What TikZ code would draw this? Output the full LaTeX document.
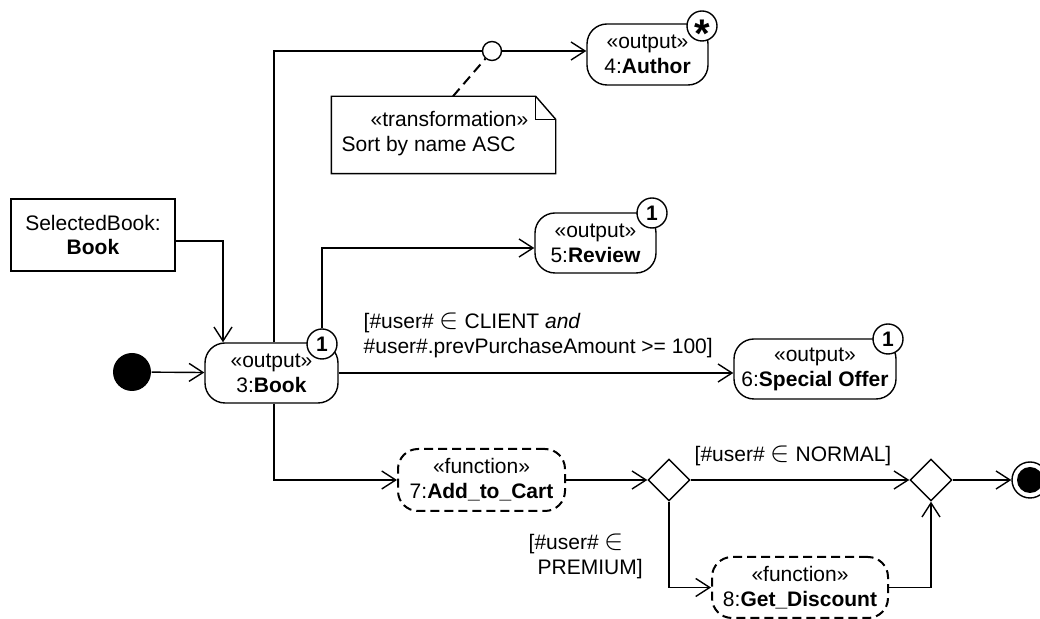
\documentclass[tikz,border=0pt]{standalone}
\usepackage{fontspec}
\setmainfont{Liberation Sans}
\usetikzlibrary{arrows.meta,shapes.geometric,calc}
\newcommand{\elemof}{\mbox{\fontsize{15}{15}\selectfont$\in$}}
\begin{document}
\begin{tikzpicture}[x=0.5pt,y=-0.5pt, line width=0.7pt,
  font=\fontsize{10.5}{12.5}\selectfont,
  arr/.style={-{Straight Barb[length=7pt,width=9pt]}},
  outnode/.style={draw, rounded corners=10pt, align=center, inner sep=0pt},
  funnode/.style={draw, rounded corners=10pt, dash pattern=on 4.5pt off 2.5pt, line width=1pt, align=center, inner sep=0pt},
  mult/.style={circle, draw, fill=white, minimum size=15pt, inner sep=0pt, font=\fontsize{10.5}{12.5}\selectfont\bfseries},
  dia/.style={diamond, draw, minimum width=21pt, minimum height=21pt, inner sep=0pt, aspect=1},
  lbl/.style={inner sep=0pt, align=left}
]
\useasboundingbox (0,0) rectangle (1040,619);

% nodes
\node[circle, fill, minimum size=19pt, inner sep=0pt] (init) at (132,372) {};
\node[draw, minimum width=82pt, minimum height=36pt, align=center, inner sep=0pt] (sel) at (93,235) {SelectedBook:\\\textbf{Book}};
\node[outnode, minimum width=66.5pt, minimum height=30pt] (book) at (271.5,373) {«output»\\3:\textbf{Book}};
\node[outnode, minimum width=60.5pt, minimum height=30.5pt] (author) at (647.5,54.5) {«output»\\4:\textbf{Author}};
\node[outnode, minimum width=60.5pt, minimum height=30pt] (review) at (595.5,243) {«output»\\5:\textbf{Review}};
\node[outnode, minimum width=81pt, minimum height=30pt] (special) at (815,369) {«output»\\6:\textbf{Special Offer}};
\node[funnode, minimum width=83.5pt, minimum height=31pt] (add) at (481.5,480) {«function»\\7:\textbf{Add\_to\_Cart}};
\node[funnode, minimum width=88pt, minimum height=30.5pt] (get) at (800,587.5) {«function»\\8:\textbf{Get\_Discount}};
\node[dia] (dec) at (669,480) {};
\node[dia] (merge) at (931,480) {};
\node[circle, draw, minimum size=18pt, inner sep=0pt] (final) at (1030,480) {};
\node[circle, fill, minimum size=13pt, inner sep=0pt] (finalin) at (final.center) {};

% note
\node[minimum width=111.5pt, minimum height=38pt, inner sep=0pt] (note) at (443.5,135) {};
\draw (note.north west) -- ([xshift=-10pt]note.north east) -- ([yshift=-11.5pt]note.north east) -- (note.south east) -- (note.south west) -- cycle;
\draw ([xshift=-10pt]note.north east) |- ([yshift=-11.5pt]note.north east);
\node[lbl, anchor=west] (notetext) at (341,134) {\hspace{14.5pt}«transformation»\\Sort by name ASC};
\node[circle, draw, fill=white, minimum size=9.5pt, inner sep=0pt] (circ) at (492,51) {};

% connectors
\draw[arr] (init) -- (book);
\draw[arr] ([yshift=-3pt]sel.east) -| ([xshift=-24.25pt]book.north);
\draw ([xshift=1.25pt]book.north) |- (circ);
\draw[arr] (circ) -- (author.west |- circ);
\draw[line width=1pt, dash pattern=on 5pt off 3pt] ([xshift=4.75pt]note.north) -- (circ);
\draw[arr] (book.east) -- (special.west |- book.east);
\draw[arr] ([xshift=1.25pt]book.south) |- (add.west);
\draw[arr] (add.east) -- (dec.west);
\draw[arr] (dec.east) -- (merge.west);
\draw[arr] (merge.east) -- (final.west);
\draw[arr] (dec.south) |- (get.west);
\draw[arr] (get.east) -| (merge.south);

% multiplicities
\node[mult] (m3) at (322,344) {1};
\draw[arr] (m3.north) |- ([yshift=-2.5pt]review.west);
\node[mult] (m4) at (702,26) {};
\node[inner sep=0pt, font=\fontsize{20}{20}\selectfont\bfseries] (m4s) at (702,34) {*};
\node[mult] (m5) at (652,213) {1};
\node[mult] (m6) at (888,339) {1};

% guards
\node[lbl, anchor=west] (g1) at (363,335) {[\#user\# \elemof{} CLIENT \textit{and}\\\#user\#.prevPurchaseAmount >= 100]};
\node[lbl] (g2) at (793,456) {[\#user\# \elemof{} NORMAL]};
\node[lbl, anchor=west] (g3) at (528,556) {[\#user\# \elemof\\\hspace{4.5pt}PREMIUM]};
\end{tikzpicture}
\end{document}
